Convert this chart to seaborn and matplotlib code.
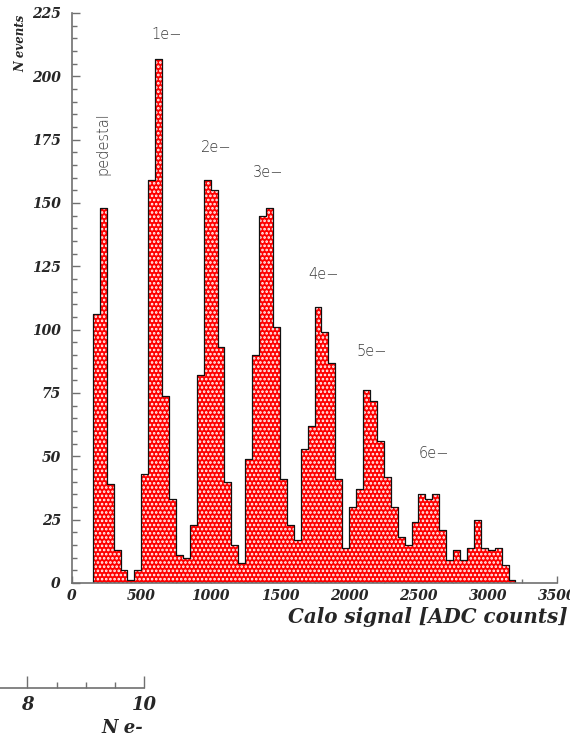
import numpy as np
import pandas as pd
import matplotlib
matplotlib.use("Agg")
import matplotlib.pyplot as plt
import seaborn as sns
from matplotlib.ticker import MultipleLocator, FixedLocator

# ---------------- data ----------------
bin_start = 150
bin_width = 50
counts = [106, 148, 39, 13, 5, 1, 5, 43, 159, 207, 74, 33, 11, 10, 23, 82,
          159, 155, 93, 40, 15, 8, 49, 90, 145, 148, 101, 41, 23, 17, 53, 62,
          109, 99, 87, 41, 14, 30, 37, 76, 72, 56, 42, 30, 18, 15, 24, 35,
          33, 35, 21, 9, 13, 9, 14, 25, 14, 13, 14, 7, 1]
peak_labels = ["1e\u2212", "2e\u2212", "3e\u2212", "4e\u2212", "5e\u2212", "6e\u2212"]
peak_x = [575, 929, 1309, 1706, 2055, 2505]
peak_y = [216.5, 172, 162, 121.6, 91.3, 51]
ped_label = "pedestal"
ped_x, ped_y = 224, 173.5
x_ticks = [0, 500, 1000, 1500, 2000, 2500, 3000, 3500]
y_ticks = [0, 25, 50, 75, 100, 125, 150, 175, 200, 225]
ne_ticks = [8, 10]
ne_minor = [8.5, 9, 9.5]

bin_end = bin_start + bin_width * len(counts)
centers = bin_start + bin_width * (np.arange(len(counts)) + 0.5)
df = pd.DataFrame({"signal": centers, "n": counts})

# ---------------- style ----------------
sns.set_style("ticks")
plt.rcParams["hatch.color"] = "white"
plt.rcParams["hatch.linewidth"] = 1.25
AX_COL = "#707070"
tick_font = dict(family="DejaVu Serif", weight="bold", style="italic")

fig = plt.figure(figsize=(5.7, 7.37), dpi=100)
ax = fig.add_axes([72 / 570, 1 - 583 / 737, 485 / 570, 570 / 737])

hist_kw = dict(data=df, x="signal", weights="n", binwidth=bin_width,
               binrange=(bin_start, bin_end), ax=ax)
sns.histplot(element="bars", fill=True, color="red", facecolor="red",
             edgecolor="white", linewidth=0, hatch="....", alpha=1, **hist_kw)
sns.histplot(element="step", fill=True, color="black", facecolor="none",
             edgecolor="#111111", linewidth=0.9, alpha=1, **hist_kw)

ax.set_xlim(0, 3500)
ax.set_ylim(0, 225)
ax.set_xlabel("")
ax.set_ylabel("")
sns.despine(ax=ax)
for s in ["left", "bottom"]:
    ax.spines[s].set_color(AX_COL)
    ax.spines[s].set_linewidth(1.2)

ax.xaxis.set_major_locator(FixedLocator(x_ticks))
ax.xaxis.set_minor_locator(MultipleLocator(250))
ax.yaxis.set_major_locator(FixedLocator(y_ticks))
ax.yaxis.set_minor_locator(MultipleLocator(5))
ax.tick_params(axis="x", which="major", direction="in", length=5, width=1,
               color=AX_COL, pad=4)
ax.tick_params(axis="x", which="minor", direction="in", length=2.6, width=1,
               color=AX_COL)
ax.tick_params(axis="y", which="major", direction="in", length=5.8, width=1,
               color=AX_COL, pad=8)
ax.tick_params(axis="y", which="minor", direction="in", length=3.6, width=1,
               color=AX_COL)
ax.set_xticks(x_ticks)
ax.set_xticklabels([str(v) for v in x_ticks], fontsize=10, **tick_font)
ax.set_yticks(y_ticks)
ax.set_yticklabels([str(v) for v in y_ticks], fontsize=10, **tick_font)

ax.text(1.0227, -0.06, "Calo signal [ADC counts]", transform=ax.transAxes,
        ha="right", va="center", fontsize=14.3, clip_on=False, **tick_font)
ax.text(-0.105, 0.997, "N events", transform=ax.transAxes, rotation=90,
        ha="center", va="top", fontsize=8.5, clip_on=False, **tick_font)

ann_font = dict(family="DejaVu Sans", weight="light", color="#3a3a3a",
                fontsize=10.5)
for lab, xx, yy in zip(peak_labels, peak_x, peak_y):
    ax.text(xx, yy, lab, ha="left", va="center", **ann_font)
ax.text(ped_x, ped_y, ped_label, rotation=90, ha="center", va="center",
        **ann_font)

# ---------------- fragment of second axis ----------------
bax = fig.add_axes([0, (737 - 687.7) / 737, 144.3 / 570, 0.02])
bax.set_xlim(7.533, 10)
bax.patch.set_visible(False)
for s in ["left", "top", "right"]:
    bax.spines[s].set_visible(False)
bax.spines["bottom"].set_color(AX_COL)
bax.spines["bottom"].set_linewidth(1.2)
bax.set_yticks([])
bax.xaxis.set_major_locator(FixedLocator(ne_ticks))
bax.xaxis.set_minor_locator(FixedLocator(ne_minor))
bax.tick_params(axis="x", which="major", direction="in", length=8.4, width=1,
                color=AX_COL, pad=6)
bax.tick_params(axis="x", which="minor", direction="in", length=4.3, width=1,
                color=AX_COL)
bax.set_xticks(ne_ticks)
bax.set_xticklabels([str(v) for v in ne_ticks], fontsize=13, **tick_font)
fig.text(143 / 570, 1 - 728 / 737, "N e-", ha="right", va="center",
         fontsize=13, **tick_font)

fig.savefig("out.png", dpi=100)
